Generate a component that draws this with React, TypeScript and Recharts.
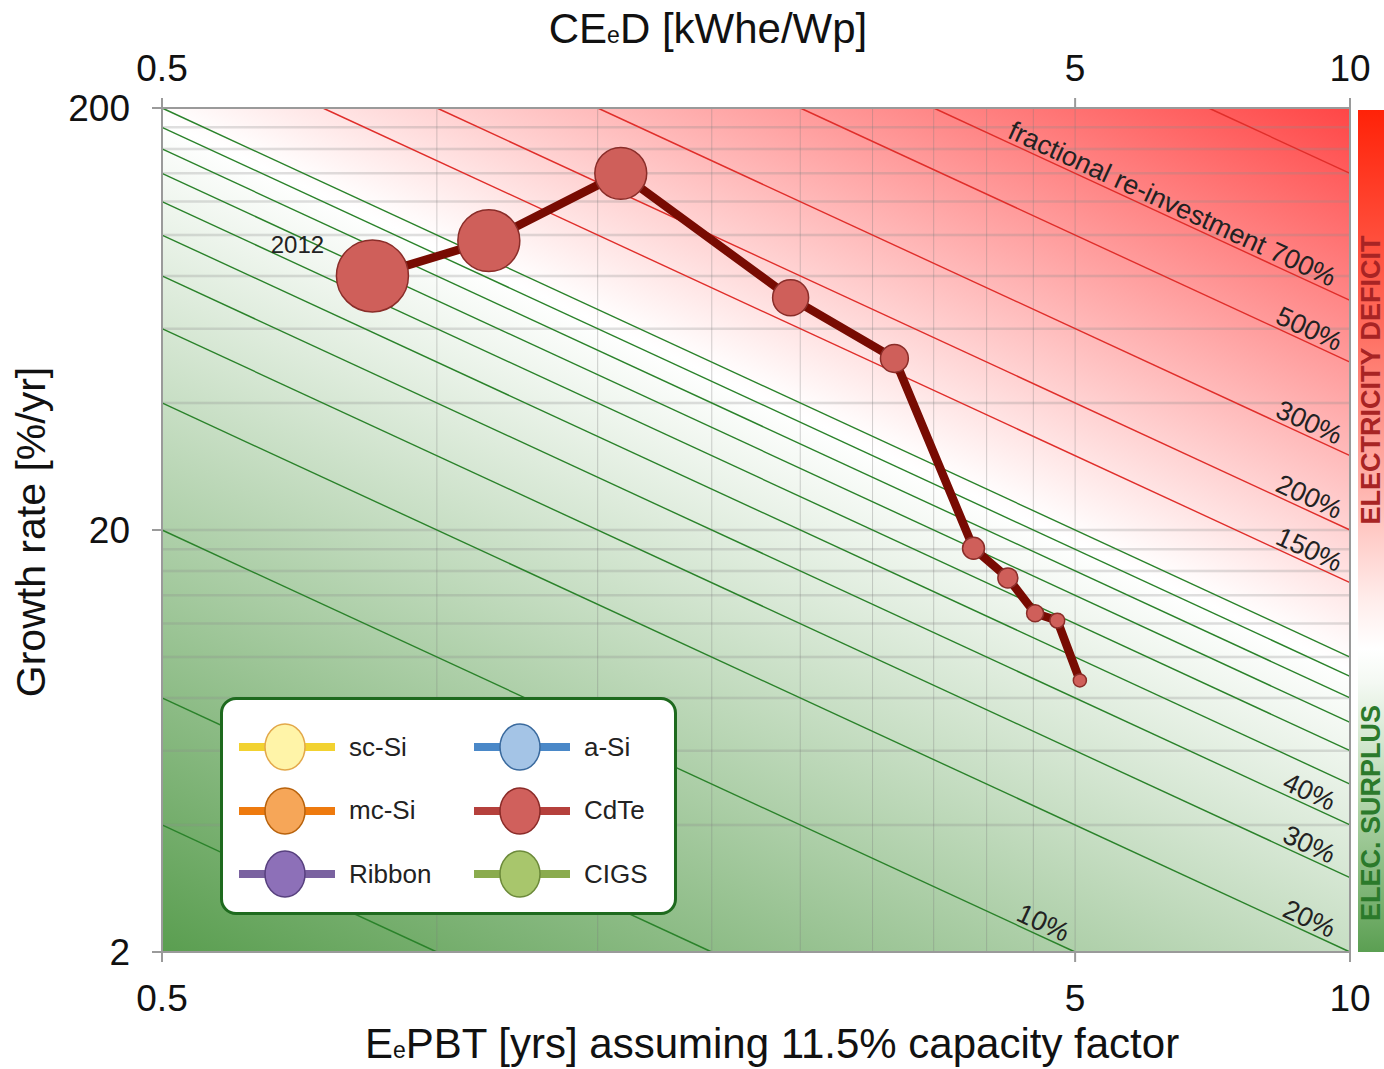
import React from 'react';
import {
  ComposedChart,
  XAxis,
  YAxis,
  ZAxis,
  Scatter,
  ReferenceArea,
  ReferenceLine,
  Legend,
} from 'recharts';

const FONT = '"Liberation Sans", Arial, Helvetica, sans-serif';

// axes
const xDomain = [0.5, 10];
const yDomain = [2, 200];
const xTicks = [0.5, 5, 10];
const yTicks = [2, 20, 200];
const xGrid = [1, 1.5, 2, 2.5, 3, 3.5, 4, 4.5, 5];
const yGrid = [4, 6, 8, 10, 12, 14, 16, 18, 20, 40, 60, 80, 100, 120, 140, 160, 180];

// fractional re-investment iso-lines (growth %/yr * EPBT yrs = percent)
const surplusLines = [2, 4, 10, 20, 30, 40, 50, 60, 70, 80, 90, 100];
const deficitLines = [150, 200, 300, 500, 700, 1400];

// labels sitting on the iso-lines
const isoLabelPct = [10, 20, 30, 40, 150, 200, 300, 500, 700];
const isoLabelEpbt = [4.55, 8.9, 8.9, 8.9, 8.9, 8.9, 8.9, 8.9, 6.3];
const isoLabelText = ['10%', '20%', '30%', '40%', '150%', '200%', '300%', '500%', 'fractional re-investment 700%'];

// CdTe history (2012 first)
const cdteEpbt = [0.85, 1.14, 1.59, 2.44, 3.17, 3.87, 4.22, 4.52, 4.78, 5.06];
const cdteGrowth = [80, 97, 140, 71, 51, 18.1, 15.4, 12.7, 12.2, 8.8];
const cdteWeight = [100, 74, 52, 25, 15, 9.3, 7.7, 5.6, 4.3, 3.3];
const cdteTags = ['2012', '', '', '', '', '', '', '', '', ''];

// legend (technologies)
const techNames = ['sc-Si', 'mc-Si', 'Ribbon', 'a-Si', 'CdTe', 'CIGS'];
const techStyle: Record<string, { line: string; fill: string; edge: string }> = {
  'sc-Si': { line: '#f2d230', fill: '#fff4a8', edge: '#e3a84a' },
  'mc-Si': { line: '#ee7a0e', fill: '#f6a658', edge: '#b8620c' },
  Ribbon: { line: '#7a62a0', fill: '#8d70b8', edge: '#57407e' },
  'a-Si': { line: '#4a88c8', fill: '#a4c4e6', edge: '#3a6a9e' },
  CdTe: { line: '#b5403c', fill: '#d0605c', edge: '#8b2b28' },
  CIGS: { line: '#8aab4e', fill: '#a8c66c', edge: '#6c8a3a' },
};

const W = 1384;
const H = 1069;
const MARGIN = { top: 8, right: 34, bottom: 8, left: 8 };
const TOP_AXIS_H = 100;
const BOTTOM_AXIS_H = 109;
const Y_AXIS_W = 154;
const PLOT_W = W - MARGIN.left - MARGIN.right - Y_AXIS_W;
const PLOT_H = H - MARGIN.top - MARGIN.bottom - TOP_AXIS_H - BOTTOM_AXIS_H;

const LX = Math.log10(xDomain[1] / xDomain[0]);
const LY = Math.log10(yDomain[1] / yDomain[0]);
// angle of the iso-lines on screen
const ISO_ANGLE = (Math.atan((PLOT_H / LY) / (PLOT_W / LX)) * 180) / Math.PI;

// background gradient, log10 of the re-investment fraction across the plot
const L0 = Math.log10((xDomain[0] * yDomain[1]) / 100);
const LMIN = L0 - LY;
const LMAX = L0 + LX;
const GT = (LMAX - LMIN) / (LX * LX + LY * LY);
const gradOffset = (l: number) => (l - LMIN) / (LMAX - LMIN);

const isoSegment = (pct: number) => {
  const a = Math.max(xDomain[0], pct / yDomain[1]);
  const b = Math.min(xDomain[1], pct / yDomain[0]);
  return [
    { x: a, y: pct / a },
    { x: b, y: pct / b },
  ];
};

const cdteData = cdteEpbt.map((x, i) => ({ x, y: cdteGrowth[i], z: cdteWeight[i], tag: cdteTags[i] }));
const isoLabelData = isoLabelPct.map((p, i) => ({ x: isoLabelEpbt[i], y: p / isoLabelEpbt[i], text: isoLabelText[i] }));

const CdteDot = (props: any) => {
  const { cx, cy, width, payload } = props;
  const r = width ? width / 2 : 6;
  return (
    <g>
      <circle cx={cx} cy={cy} r={r} fill="#cf5f5a" stroke="#8a2d29" strokeWidth={1.5} />
      {payload.tag ? (
        <text x={cx - 75} y={cy - 23} textAnchor="middle" fontSize={24} fill="#222" fontFamily={FONT}>
          {payload.tag}
        </text>
      ) : null}
    </g>
  );
};

const IsoLabel = (props: any) => {
  const { cx, cy, payload } = props;
  return (
    <text
      x={cx}
      y={cy}
      dy={-4}
      transform={`rotate(${ISO_ANGLE}, ${cx}, ${cy})`}
      textAnchor="middle"
      fontSize={27}
      fill="#222"
      fontFamily={FONT}
    >
      {payload.text}
    </text>
  );
};

const TopTitle = (props: any) => {
  const vb = props.viewBox;
  return (
    <text x={vb.x + vb.width / 2 - 48} y={vb.y + 35} textAnchor="middle" fontSize={42} fill="#111" fontFamily={FONT}>
      <tspan>CE</tspan>
      <tspan fontSize={23}>e</tspan>
      <tspan>D [kWhe/Wp]</tspan>
    </text>
  );
};

const BottomTitle = (props: any) => {
  const vb = props.viewBox;
  return (
    <text x={vb.x + vb.width / 2 + 16} y={vb.y + 106} textAnchor="middle" fontSize={42} fill="#111" fontFamily={FONT}>
      <tspan>E</tspan>
      <tspan fontSize={23}>e</tspan>
      <tspan>PBT [yrs] assuming 11.5% capacity factor</tspan>
    </text>
  );
};

const LeftTitle = (props: any) => {
  const vb = props.viewBox;
  const x = vb.x + 37;
  const y = vb.y + vb.height / 2 + 2;
  return (
    <text x={x} y={y} transform={`rotate(-90, ${x}, ${y})`} textAnchor="middle" fontSize={41} fill="#111" fontFamily={FONT}>
      Growth rate [%/yr]
    </text>
  );
};

const TechLegend = () => (
  <div
    style={{
      position: 'relative',
      width: 457,
      height: 218,
      boxSizing: 'border-box',
      border: '3px solid #1e6a1e',
      borderRadius: 16,
      background: '#fff',
      fontFamily: FONT,
    }}
  >
    {techNames.map((name, i) => {
      const col = Math.floor(i / 3);
      const row = i % 3;
      const s = techStyle[name];
      return (
        <div
          key={name}
          style={{ position: 'absolute', left: 14 + col * 235, top: 22 + row * 63.5, height: 50, display: 'flex', alignItems: 'center' }}
        >
          <svg width={100} height={50}>
            <line x1={2} x2={98} y1={25} y2={25} stroke={s.line} strokeWidth={8} />
            <ellipse cx={48} cy={25} rx={20} ry={23} fill={s.fill} stroke={s.edge} strokeWidth={1.5} />
          </svg>
          <span style={{ fontSize: 26, color: '#222', marginLeft: 12 }}>{name}</span>
        </div>
      );
    })}
  </div>
);

const axisStroke = { stroke: '#9a9a9a', strokeWidth: 2 };
const tickStyle = { fill: '#111', fontSize: 37, fontFamily: FONT };

export default function App() {
  return (
    <div style={{ position: 'absolute', left: 0, top: 0, width: W, height: H, background: '#fff', overflow: 'hidden' }}>
      <svg width={0} height={0} style={{ position: 'absolute' }}>
        <defs>
          <linearGradient id="isoGrad" x1={0} y1={1} x2={GT * LX} y2={1 - GT * LY}>
            <stop offset={gradOffset(LMIN)} stopColor="#5a9e50" />
            <stop offset={gradOffset(-0.03)} stopColor="#ffffff" />
            <stop offset={gradOffset(0.02)} stopColor="#fffafa" />
            <stop offset={gradOffset(LMAX)} stopColor="#ff4646" />
          </linearGradient>
        </defs>
      </svg>

      <ComposedChart width={W} height={H} margin={MARGIN}>
        <XAxis
          dataKey="x"
          type="number"
          scale="log"
          domain={xDomain}
          allowDataOverflow
          ticks={xTicks}
          height={BOTTOM_AXIS_H}
          axisLine={axisStroke}
          tickLine={axisStroke}
          tickSize={10}
          tickMargin={23}
          tick={tickStyle}
          label={<BottomTitle />}
        />
        <XAxis
          xAxisId="top"
          orientation="top"
          dataKey="x"
          type="number"
          scale="log"
          domain={xDomain}
          allowDataOverflow
          ticks={xTicks}
          height={TOP_AXIS_H}
          axisLine={axisStroke}
          tickLine={axisStroke}
          tickSize={10}
          tickMargin={17}
          tick={tickStyle}
          label={<TopTitle />}
        />
        <YAxis
          dataKey="y"
          type="number"
          scale="log"
          domain={yDomain}
          allowDataOverflow
          ticks={yTicks}
          width={Y_AXIS_W}
          axisLine={axisStroke}
          tickLine={axisStroke}
          tickSize={10}
          tickMargin={22}
          tick={tickStyle}
          label={<LeftTitle />}
        />
        <ZAxis dataKey="z" range={[0, Math.PI * 36 * 36]} domain={[0, 100]} />

        <ReferenceArea x1={xDomain[0]} x2={xDomain[1]} y1={yDomain[0]} y2={yDomain[1]} fill="url(#isoGrad)" fillOpacity={1} stroke="none" />

        {yGrid.map((v) => (
          <ReferenceLine key={`gy${v}`} y={v} stroke="#8c8c8c" strokeOpacity={0.28} strokeWidth={2.5} />
        ))}
        {xGrid.map((v) => (
          <ReferenceLine key={`gx${v}`} x={v} stroke="#7a7a7a" strokeOpacity={0.35} strokeWidth={1} />
        ))}

        {surplusLines.map((p) => (
          <ReferenceLine key={`s${p}`} segment={isoSegment(p)} stroke="#2a822a" strokeWidth={1.4} ifOverflow="visible" />
        ))}
        {deficitLines.map((p) => (
          <ReferenceLine key={`d${p}`} segment={isoSegment(p)} stroke="#e02e2a" strokeWidth={1.4} ifOverflow="visible" />
        ))}
        <ReferenceLine x={xDomain[1]} stroke="#9a9a9a" strokeWidth={2} />

        <Scatter data={isoLabelData} shape={IsoLabel} isAnimationActive={false} legendType="none" />
        <Scatter
          name="CdTe"
          data={cdteData}
          fill="#cf5f5a"
          shape={CdteDot}
          line={{ stroke: '#780b02', strokeWidth: 8.5, strokeLinejoin: 'round' }}
          lineType="joint"
          isAnimationActive={false}
        />

        <Legend
          layout="horizontal"
          verticalAlign="middle"
          align="center"
          content={<TechLegend />}
          wrapperStyle={{ position: 'absolute', left: 220, top: 697, width: 457, height: 218 }}
        />
      </ComposedChart>

      <div
        style={{
          position: 'absolute',
          left: 1358,
          top: 110,
          width: 30,
          height: 842,
          background:
            'linear-gradient(to bottom, #ff2208 0%, #ff6a5c 25%, #ffb4ae 45%, #ffecea 58%, #ffffff 64%, #f4f9f3 68%, #b3d6ac 82%, #5b9f52 100%)',
        }}
      />
      <div
        style={{
          position: 'absolute',
          left: 1371,
          top: 380,
          transform: 'translate(-50%, -50%) rotate(-90deg)',
          whiteSpace: 'nowrap',
          fontFamily: FONT,
          fontWeight: 'bold',
          fontSize: 27,
          color: '#a82424',
        }}
      >
        ELECTRICITY DEFICIT
      </div>
      <div
        style={{
          position: 'absolute',
          left: 1371,
          top: 813,
          transform: 'translate(-50%, -50%) rotate(-90deg)',
          whiteSpace: 'nowrap',
          fontFamily: FONT,
          fontWeight: 'bold',
          fontSize: 27,
          color: '#2b7a2b',
        }}
      >
        ELEC. SURPLUS
      </div>
    </div>
  );
}
